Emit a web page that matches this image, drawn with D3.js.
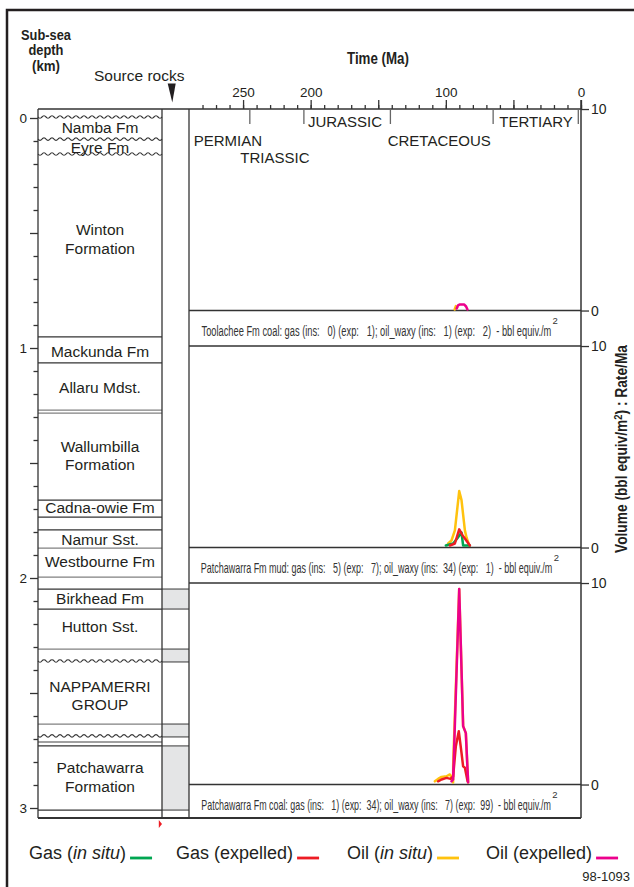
<!DOCTYPE html>
<html><head><meta charset="utf-8">
<script src="https://cdn.jsdelivr.net/npm/d3@7"></script>
<style>
body{margin:0;background:#fff;}
svg{display:block;font-family:"Liberation Sans",Arial,Helvetica,sans-serif;}
</style></head><body>
<svg id="c" width="634" height="887"></svg>
<script>
// ================= DATA =================
// time axis (Ma)
const timeMinorTicks = [0,10,20,30,40,50,60,70,80,90,100,110,120,130,140,150,160,170,180,190,200,210,220,230,240,250,260,270,280];
const timeMajorTicks = [250,200,150,100,50,0];
const timeLabelTicks = [250,200,100,0];
const periodBounds = [245,205,141,65,2];
const periodNames  = ["PERMIAN","TRIASSIC","JURASSIC","CRETACEOUS","TERTIARY"];
const periodLabelMa = [286.5,252,202,143,60.5];
const periodLabelRow = [1,2,0,1,0];

// depth axis (km)
const depthMinorTicks = [0.1,0.2,0.3,0.4,0.6,0.7,0.8,0.9,1.1,1.2,1.3,1.4,1.6,1.7,1.8,1.9,2.1,2.2,2.3,2.4,2.6,2.7,2.8,2.9];
const depthMidTicks = [0.5,1.5,2.5];
const depthMajorTicks = [0,1,2,3];

// stratigraphy: names, label depth (km)
const formationNames = [["Namba Fm"],["Eyre Fm"],["Winton","Formation"],["Mackunda Fm"],["Allaru Mdst."],
  ["Wallumbilla","Formation"],["Cadna-owie Fm"],["Namur Sst."],["Westbourne Fm"],["Birkhead Fm"],
  ["Hutton Sst."],["NAPPAMERRI","GROUP"],["Patchawarra","Formation"]];
const formationLabelDepth = [0.0665,0.151,0.509,1.038,1.194,1.451,1.719,1.857,1.953,2.113,2.236,2.494,2.849];
const wavyBoundaries = [0,0.096,0.161,2.365,2.691];
const darkBoundaries = [0.952,1.065,1.661,1.735,1.791,2.048,2.135,2.730,3.009];
const greyBoundaries = [1.270,1.283,1.870,1.996,2.309,2.635,2.713];
const sourceRockTops  = [2.048,2.309,2.635,2.730];
const sourceRockBases = [2.135,2.365,2.691,3.009];
const columnTopDepth = -0.039, columnBaseDepth = 3.043;

// panels
const panelLabels = [
  "Toolachee Fm coal: gas (ins:   0) (exp:   1); oil_waxy (ins:   1) (exp:   2)  - bbl equiv./m",
  "Patchawarra Fm mud: gas (ins:   5) (exp:   7); oil_waxy (ins:  34) (exp:   1)  - bbl equiv./m",
  "Patchawarra Fm coal: gas (ins:   1) (exp:  34); oil_waxy (ins:   7) (exp:  99)  - bbl equiv./m"];
const rateTicks = [0,10];

// series [Ma, rate]
const p1GasInSitu = [];
const p1GasExpelled = [];
const p1OilInSitu = [[93.5,0.05],[92.6,0.22],[91.6,0.15]];
const p1OilExpelled = [[92,0.1],[91,0.25],[89.5,0.3],[86.5,0.3],[85,0.2],[84,0.05]];

const p2GasInSitu = [[100,0.1],[94.6,0.2],[91.6,0.45],[88.4,0.75],[87.2,0.1],[82.2,0.1]];
const p2GasExpelled = [[97,0.1],[93.3,0.2],[90.1,0.9],[87.6,0.6],[85.9,0.45],[82.2,0.1]];
const p2OilInSitu = [[98.3,0.2],[95.8,0.35],[93.3,0.85],[90.1,2.8],[88.4,2.35],[85.9,0.85],[84.7,0.5],[82.7,0.1]];
const p2OilExpelled = [];

const p3GasInSitu = [];
const p3GasExpelled = [[105.7,0.16],[103.2,0.25],[99.5,0.33],[96.5,0.28],[94.6,0.41],[92.6,1.9],[90.4,2.64],[88.4,1.57],[87.2,0.9],[85.9,0.83],[83.9,0.16]];
const p3OilInSitu = [[108.1,0.16],[105.7,0.28],[103.2,0.38],[99.5,0.41],[97,0.5],[95.3,0.33],[94.6,0.1],[94.55,1.0],[90.1,9.7],[87.2,2.9],[85.2,2.55],[83.5,0.1]];
const p3OilExpelled = [[95.8,0.16],[94.6,0.25],[90.1,9.7],[87.2,2.9],[85.2,2.55],[83.5,0.1]];

const seriesNames = ["Gas (in situ)","Gas (expelled)","Oil (in situ)","Oil (expelled)"];
const seriesColors = ["#00a651","#ed1c24","#ffc20e","#ec008c"];

// ================= DRAW =================
const svg = d3.select("#c");
const ink = "#231f20";

const xTime = d3.scaleLinear().domain([290,0]).range([189,581]);
const yDepth = d3.scaleLinear().domain([0,3]).range([118,808]);
const colL = 38, colR = 162, srcR = 189, plotR = 581;
const axisY = yDepth(columnTopDepth);
const colBottom = yDepth(columnBaseDepth);

// horizontally condense a text element to a target width around its anchor point
function squeeze(t, target, ax, ay, pre){
  const w = t.node().getComputedTextLength();
  const s = Math.min(1, target / w);
  t.attr("transform", `translate(${ax},${ay}) ${pre||""} scale(${s},1) translate(${-ax},${-ay})`);
  return w*s;
}

// outer frame
svg.append("rect").attr("x",7).attr("y",10).attr("width",700).attr("height",900)
  .attr("fill","none").attr("stroke",ink).attr("stroke-width",2.5);

// header texts
const hdrLines = ["Sub-sea","depth","(km)"], hdrW = [50,35,28], hdrY = [40,55.5,71];
hdrLines.forEach((s,i)=>{
  const t = svg.append("text").attr("font-weight","bold").attr("font-size",14)
    .attr("text-anchor","middle").attr("fill",ink).attr("x",46).attr("y",hdrY[i]).text(s);
  squeeze(t, hdrW[i], 46, hdrY[i]);
});
const tt = svg.append("text").attr("font-weight","bold").attr("font-size",16)
  .attr("x",378).attr("y",64).attr("text-anchor","middle").attr("fill",ink).text("Time (Ma)");
squeeze(tt, 62, 378, 64);
svg.append("text").attr("font-size",15.5).attr("x",94).attr("y",81).attr("fill",ink).text("Source rocks");
svg.append("path").attr("d","M167.7,83.5 L175.7,83.5 L172.3,102.5 Z").attr("fill",ink);

// source rock fills
sourceRockTops.forEach((t,i)=>{
  svg.append("rect").attr("x",colR).attr("y",yDepth(t)).attr("width",srcR-colR)
    .attr("height",yDepth(sourceRockBases[i])-yDepth(t)).attr("fill","#e4e5e6");
});
// boundaries
greyBoundaries.forEach(d=>svg.append("line").attr("x1",colL).attr("x2",colR).attr("y1",yDepth(d)).attr("y2",yDepth(d))
  .attr("stroke","#808080").attr("stroke-width",1.3));
darkBoundaries.forEach(d=>svg.append("line").attr("x1",colL).attr("x2",colR).attr("y1",yDepth(d)).attr("y2",yDepth(d))
  .attr("stroke","#333").attr("stroke-width",1.2));
sourceRockTops.concat(sourceRockBases).forEach(d=>svg.append("line").attr("x1",colR).attr("x2",srcR).attr("y1",yDepth(d)).attr("y2",yDepth(d))
  .attr("stroke","#555").attr("stroke-width",1.2));
const wave = d3.line().curve(d3.curveBasis);
wavyBoundaries.forEach(d=>{
  const y0 = yDepth(d)-1, pts=[];
  for(let x=colL;x<=colR;x+=1) pts.push([x, y0+1.4*Math.sin((x-colL)/8*2*Math.PI)]);
  svg.append("path").attr("d",wave(pts)).attr("fill","none").attr("stroke","#333").attr("stroke-width",1.1);
});
// formation labels
formationNames.forEach((lines,i)=>{
  const t = svg.append("text").attr("font-size",15.5).attr("text-anchor","middle").attr("fill",ink);
  lines.forEach((s,j)=>t.append("tspan").attr("x",(colL+colR)/2).attr("y",yDepth(formationLabelDepth[i])+j*18.5).text(s));
});
// column outlines
[colL,colR,srcR].forEach(x=>svg.append("line").attr("x1",x).attr("x2",x).attr("y1",axisY).attr("y2",colBottom)
  .attr("stroke","#333").attr("stroke-width",1.3));
svg.append("line").attr("x1",colL).attr("x2",plotR).attr("y1",colBottom).attr("y2",colBottom).attr("stroke","#333").attr("stroke-width",2);
svg.append("line").attr("x1",colL).attr("x2",plotR).attr("y1",axisY).attr("y2",axisY).attr("stroke","#333").attr("stroke-width",1.5);
svg.append("path").attr("d",`M158.8,${colBottom+2} L162,${colBottom+6} L158.8,${colBottom+10} Z`).attr("fill","#ed1c24");

// depth axis
function styleAxis(g, size){
  g.select(".domain").remove();
  g.selectAll("line").attr("stroke","#333").attr("stroke-width",1.3);
  g.selectAll("text").attr("font-family","Liberation Sans, Arial, sans-serif").attr("font-size",size).attr("fill",ink);
}
svg.append("g").attr("transform",`translate(${colL},0)`)
  .call(d3.axisLeft(yDepth).tickValues(depthMinorTicks).tickSize(4.5).tickFormat(""))
  .call(g=>styleAxis(g,13));
svg.append("g").attr("transform",`translate(${colL},0)`)
  .call(d3.axisLeft(yDepth).tickValues(depthMidTicks).tickSize(8).tickFormat(""))
  .call(g=>styleAxis(g,13));
svg.append("g").attr("transform",`translate(${colL},0)`)
  .call(d3.axisLeft(yDepth).tickValues(depthMajorTicks).tickSize(8).tickPadding(3).tickFormat(d3.format("d")))
  .call(g=>styleAxis(g,13.5));

// time axis
svg.append("g").attr("transform",`translate(0,${axisY})`)
  .call(d3.axisTop(xTime).tickValues(timeMinorTicks).tickSize(4).tickFormat(""))
  .call(g=>styleAxis(g,13));
svg.append("g").attr("transform",`translate(0,${axisY})`)
  .call(d3.axisTop(xTime).tickValues(timeMajorTicks).tickSize(9).tickPadding(3)
    .tickFormat(d=>timeLabelTicks.includes(d)?d:""))
  .call(g=>styleAxis(g,13.5));
periodBounds.forEach(b=>svg.append("line").attr("x1",xTime(b)).attr("x2",xTime(b)).attr("y1",axisY).attr("y2",axisY+15)
  .attr("stroke","#666").attr("stroke-width",1.3));
const rowY = [126.7,146.3,163];
periodNames.forEach((n,i)=>svg.append("text").attr("font-size",15).attr("fill",ink)
  .attr("x",xTime(periodLabelMa[i])).attr("y",rowY[periodLabelRow[i]]).text(n));

// right axis line
svg.append("line").attr("x1",plotR).attr("x2",plotR).attr("y1",axisY-9).attr("y2",colBottom).attr("stroke","#333").attr("stroke-width",1.5);

// panels
const panelTop0 = axisY, panelStep = 237, panelH = 201.5;
const panelSeries = [
  [p1OilInSitu,p1GasInSitu,p1GasExpelled,p1OilExpelled],
  [p2OilInSitu,p2GasInSitu,p2GasExpelled,p2OilExpelled],
  [p3OilInSitu,p3GasInSitu,p3GasExpelled,p3OilExpelled]];
const seriesOrderColor = [seriesColors[2],seriesColors[0],seriesColors[1],seriesColors[3]];
panelLabels.forEach((lab,i)=>{
  const top = panelTop0 + i*panelStep, bottom = top + panelH;
  const yVal = d3.scaleLinear().domain([0,10]).range([bottom, top]);
  [bottom, bottom+35.5].forEach(y=>{ if(y<colBottom-2) svg.append("line").attr("x1",srcR).attr("x2",plotR).attr("y1",y).attr("y2",y)
    .attr("stroke","#333").attr("stroke-width",1.6);});
  svg.append("g").attr("transform",`translate(${plotR},0)`)
    .call(d3.axisRight(yVal).tickValues(rateTicks).tickSize(8).tickPadding(2))
    .call(g=>styleAxis(g,14));
  const line = d3.line().x(d=>xTime(d[0])).y(d=>yVal(d[1]));
  panelSeries[i].forEach((s,k)=>{
    if(!s.length) return;
    svg.append("path").attr("d",line(s)).attr("fill","none").attr("stroke",seriesOrderColor[k])
      .attr("stroke-width",2.5).attr("stroke-linejoin","round").attr("stroke-linecap","round");
  });
  const lx = i==0?201.5:(i==1?200.7:201.3), ly = bottom+25, target = i==1?352:350;
  const t = svg.append("text").attr("font-size",14).attr("fill","#333")
    .attr("x",lx).attr("y",ly).style("white-space","pre").attr("xml:space","preserve").text(lab);
  const w = squeeze(t, target, lx, ly);
  svg.append("text").attr("font-size",9.5).attr("fill","#333")
    .attr("x",lx+w+1).attr("y",bottom+13).text("2");
});

// vertical axis title
const vt = svg.append("text").attr("font-weight","bold").attr("font-size",16).attr("fill",ink)
  .attr("text-anchor","middle").attr("x",0).attr("y",0);
vt.append("tspan").text("Volume (bbl equiv/m");
vt.append("tspan").attr("font-size",11).attr("dy",-5).text("2");
vt.append("tspan").attr("dy",5).text(") : Rate/Ma");
{
  const w = vt.node().getComputedTextLength();
  vt.attr("transform",`translate(626.5,449) rotate(-90) scale(${208/w},1)`);
}

// legend
const legendX = [29,176,347,486];
seriesNames.forEach((n,i)=>{
  const t = svg.append("text").attr("font-size",18).attr("fill",ink).attr("x",legendX[i]).attr("y",859);
  const m = n.match(/^(\S+) \((.*)\)$/);
  t.append("tspan").text(m[1]+" (");
  t.append("tspan").attr("font-style", m[2]==="in situ"?"italic":"normal").text(m[2]);
  t.append("tspan").text(")");
  const w = t.node().getComputedTextLength();
  svg.append("line").attr("x1",legendX[i]+w+4).attr("x2",legendX[i]+w+26).attr("y1",858).attr("y2",858)
    .attr("stroke",seriesColors[i]).attr("stroke-width",2.8);
});
svg.append("text").attr("font-size",13).attr("fill",ink).attr("x",630).attr("y",881).attr("text-anchor","end").text("98-1093");
</script>
</body></html>
